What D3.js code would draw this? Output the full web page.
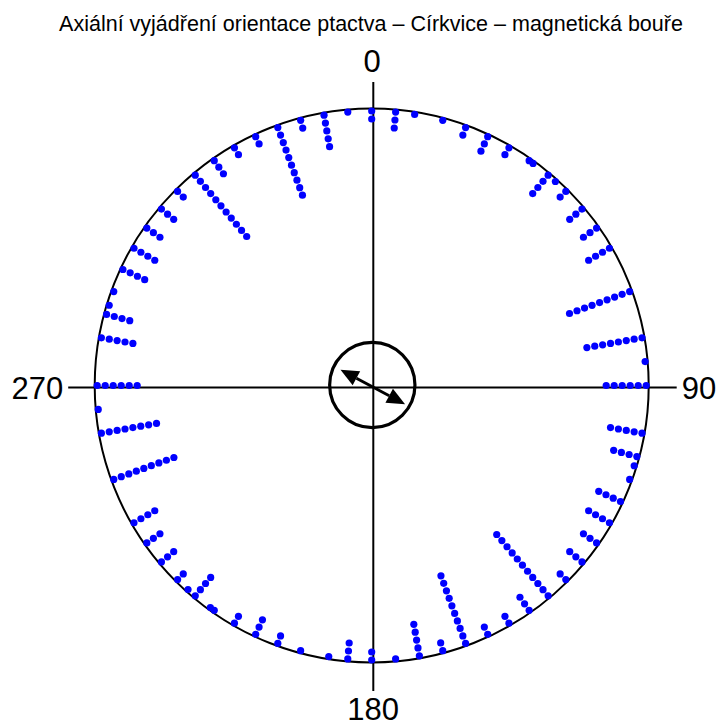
<!DOCTYPE html>
<html>
<head>
<meta charset="utf-8">
<script src="https://cdn.jsdelivr.net/npm/d3@7"></script>
<style>
  body { margin: 0; background: #fff; }
  text { font-family: "Liberation Sans", Arial, sans-serif; fill: #000; }
</style>
</head>
<body>
<div id="chart"></div>
<script>
// axial data: each direction (0-180) is drawn twice, at a and a+180
const angles = [0, 5, 9, 15, 20, 25, 30, 35, 36, 40, 42, 45, 50, 55, 60, 70, 80, 85, 90,
  100, 105, 107, 110, 115, 120, 125, 130, 135, 140, 145, 150, 155, 160, 165, 170, 175];
const counts = [2, 3, 1, 1, 2, 3, 2, 1, 1, 4, 1, 2, 3, 3, 4, 9, 8, 1, 6,
  5, 4, 1, 1, 4, 4, 3, 3, 2, 11, 3, 2, 2, 10, 2, 5, 1];
const axisLabels = ['0', '90', '180', '270'];
const meanAxis = 118;      // mean axis direction, degrees
const meanLength = 0.132;  // relative to plot radius
const rayleighR = 0.154;   // inner circle, relative to plot radius

const title = 'Axiální vyjádření orientace ptactva – Církvice – magnetická bouře';

const width = 718, height = 727;
const cx = 371.7, cy = 385.5, R = 277;

const svg = d3.select('#chart').append('svg')
  .attr('width', width)
  .attr('height', height);

const ang = d3.scaleLinear().domain([0, 360]).range([0, 2 * Math.PI]);
// stack index -> radius (dots pile inward from the rim)
const stack = d3.scaleLinear().domain([0, 1]).range([274.5, 266.5]);
const rel = d3.scaleLinear().domain([0, 1]).range([0, R]);

svg.append('text')
  .attr('x', 371)
  .attr('y', 31)
  .attr('text-anchor', 'middle')
  .style('font-size', '21.5px')
  .text(title);

const g = svg.append('g').attr('transform', `translate(${cx},${cy})`);

// cross lines (sit slightly off the plot centre, as in the original)
const lx = 1.6, ly = 2;
g.append('line')
  .attr('x1', lx).attr('x2', lx).attr('y1', -303.5).attr('y2', 305.5)
  .attr('stroke', '#000').attr('stroke-width', 2);
g.append('line')
  .attr('x1', -303.5).attr('x2', 305).attr('y1', ly).attr('y2', ly)
  .attr('stroke', '#000').attr('stroke-width', 2);

g.append('circle')
  .attr('r', R)
  .attr('fill', 'none')
  .attr('stroke', '#000')
  .attr('stroke-width', 2);

// labels
const labelPos = [
  { x: 0.5, y: -313.5, anchor: 'middle' },
  { x: 310, y: 13.5, anchor: 'start' },
  { x: 1.5, y: 334, anchor: 'middle' },
  { x: -308.5, y: 13.5, anchor: 'end' }
];
g.selectAll('.lab')
  .data(axisLabels)
  .enter()
  .append('text')
  .attr('class', 'lab')
  .attr('x', (d, i) => labelPos[i].x)
  .attr('y', (d, i) => labelPos[i].y)
  .attr('text-anchor', (d, i) => labelPos[i].anchor)
  .style('font-size', '31px')
  .text(d => d);

// dots
const dots = [];
angles.forEach((a, i) => {
  for (let k = 0; k < counts[i]; k++) {
    dots.push({ a: a, k: k });
    dots.push({ a: a + 180, k: k });
  }
});

g.selectAll('.dot')
  .data(dots)
  .enter()
  .append('circle')
  .attr('class', 'dot')
  .attr('cx', d => d3.pointRadial(ang(d.a), stack(d.k))[0])
  .attr('cy', d => d3.pointRadial(ang(d.a), stack(d.k))[1])
  .attr('r', 3.6)
  .attr('fill', '#0000ff');

// inner circle + mean axis arrow
g.append('circle')
  .attr('cx', 0.6)
  .attr('cy', -0.5)
  .attr('r', rel(rayleighR))
  .attr('fill', 'none')
  .attr('stroke', '#000')
  .attr('stroke-width', 3.2);

const ag = g.append('g').attr('transform', `translate(${lx - 0.5},${ly - 0.5})`);
const L = rel(meanLength);
const headLen = 18, headW = 8;
[meanAxis, meanAxis + 180].forEach(a => {
  const tip = d3.pointRadial(ang(a), L);
  const base = d3.pointRadial(ang(a), L - headLen);
  const side1 = d3.pointRadial(ang(a + 90), headW);
  const side2 = d3.pointRadial(ang(a - 90), headW);
  ag.append('line')
    .attr('x1', 0).attr('y1', 0)
    .attr('x2', base[0]).attr('y2', base[1])
    .attr('stroke', '#000').attr('stroke-width', 3);
  ag.append('path')
    .attr('d', d3.line()([
      tip,
      [base[0] + side1[0], base[1] + side1[1]],
      [base[0] + side2[0], base[1] + side2[1]]
    ]) + 'Z')
    .attr('fill', '#000');
});
</script>
</body>
</html>
